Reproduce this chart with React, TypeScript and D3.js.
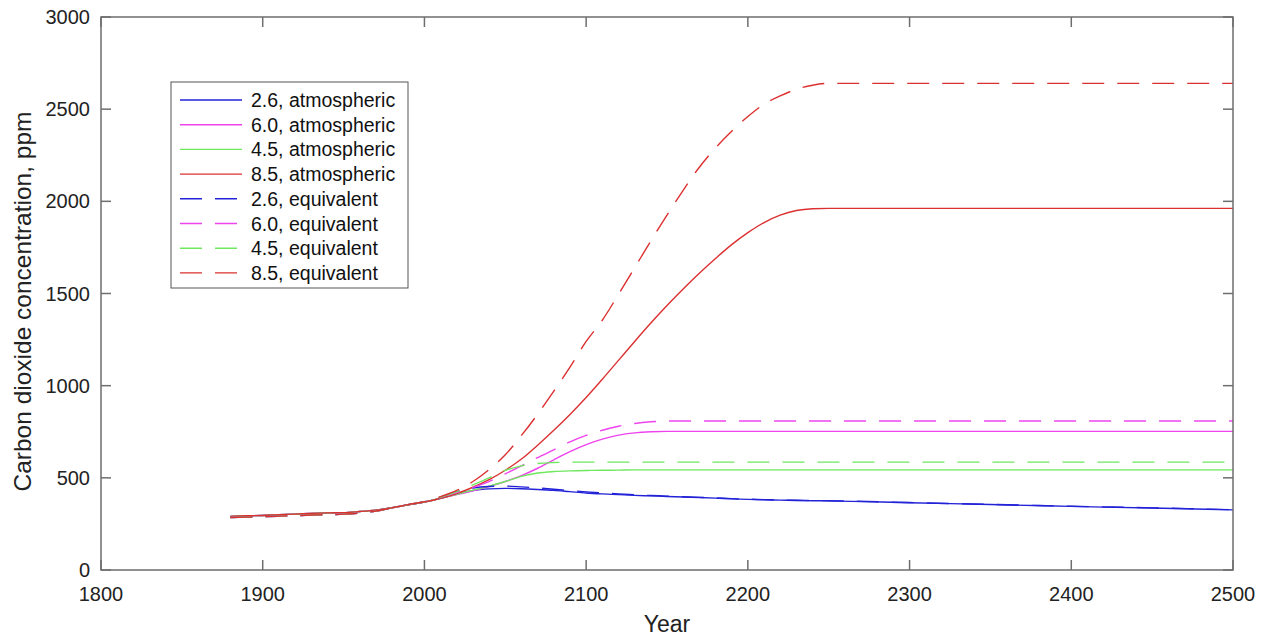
import React from "react";
import * as d3 from "d3";

// Shared historical record (1880-2000)
const histYears = [1880, 1890, 1900, 1910, 1920, 1930, 1940, 1950, 1960, 1970, 1980, 1990, 2000];
const histAtmospheric = [291, 294, 296, 300, 303, 307, 310, 311, 317, 325, 338, 354, 369];
const histEquivalent = [285, 287, 289, 292, 295, 298, 300, 303, 309, 320, 337, 355, 370];

// Scenario years (2010-2500)
const futureYears = [
  2010, 2020, 2030, 2040, 2050, 2060, 2070, 2080, 2090, 2100,
  2110, 2120, 2130, 2140, 2150, 2160, 2170, 2180, 2190, 2200,
  2210, 2220, 2230, 2240, 2250, 2300, 2350, 2400, 2450, 2500,
];

const rcp26Atm = [389, 412, 431, 440, 443, 441, 437, 432, 425, 418, 413, 409, 405, 402, 399, 396, 393, 390, 386, 383, 381, 379, 377, 376, 375, 365, 355, 345, 336, 326];
const rcp60Atm = [389, 409, 430, 453, 480, 512, 552, 598, 642, 680, 710, 732, 744, 750, 752, 752, 752, 752, 752, 752, 752, 752, 752, 752, 752, 752, 752, 752, 752, 752];
const rcp45Atm = [389, 411, 433, 455, 480, 508, 526, 534, 538, 540, 541, 542, 543, 543, 543, 543, 543, 543, 543, 543, 543, 543, 543, 543, 543, 543, 543, 543, 543, 543];
const rcp85Atm = [389, 415, 449, 490, 541, 602, 677, 758, 844, 936, 1035, 1137, 1240, 1340, 1435, 1525, 1610, 1690, 1765, 1830, 1885, 1925, 1950, 1960, 1962, 1962, 1962, 1962, 1962, 1962];

const rcp26Eq = [395, 425, 445, 453, 455, 451, 445, 438, 431, 424, 418, 413, 408, 404, 401, 397, 394, 391, 387, 384, 382, 380, 378, 377, 376, 366, 356, 346, 337, 327];
const rcp60Eq = [395, 420, 448, 480, 522, 565, 610, 652, 695, 730, 758, 780, 795, 804, 808, 808, 808, 808, 808, 808, 808, 808, 808, 808, 808, 808, 808, 808, 808, 808];
const rcp45Eq = [395, 425, 462, 500, 540, 565, 578, 583, 585, 585, 585, 585, 585, 585, 585, 585, 585, 585, 585, 585, 585, 585, 585, 585, 585, 585, 585, 585, 585, 585];
const rcp85Eq = [398, 432, 480, 545, 625, 730, 845, 970, 1100, 1240, 1355, 1495, 1640, 1785, 1925, 2060, 2185, 2290, 2380, 2460, 2527, 2572, 2608, 2630, 2640, 2640, 2640, 2640, 2640, 2640];

const seriesLabels = [
  "2.6, atmospheric", "6.0, atmospheric", "4.5, atmospheric", "8.5, atmospheric",
  "2.6, equivalent", "6.0, equivalent", "4.5, equivalent", "8.5, equivalent",
];
const seriesValues = [rcp26Atm, rcp60Atm, rcp45Atm, rcp85Atm, rcp26Eq, rcp60Eq, rcp45Eq, rcp85Eq];
const seriesColors = ["#2222d8", "#ee44ee", "#6fe860", "#dc3030", "#2222d8", "#ee44ee", "#6fe860", "#dc3030"];
const seriesDashed = [false, false, false, false, true, true, true, true];

const xTicks = [1800, 1900, 2000, 2100, 2200, 2300, 2400, 2500];
const yTicks = [0, 500, 1000, 1500, 2000, 2500, 3000];

const W = 1268;
const H = 638;
const M = { left: 101, right: 1233, top: 17, bottom: 570 };
const FONT = "'Liberation Sans', Arial, Helvetica, sans-serif";
const AXIS = "#6e6e6e";
const DASH = "22,13";

export default function App() {
  const x = d3.scaleLinear().domain([1800, 2500]).range([M.left, M.right]);
  const y = d3.scaleLinear().domain([0, 3000]).range([M.bottom, M.top]);
  const line = d3
    .line<[number, number]>()
    .x((d) => x(d[0]))
    .y((d) => y(d[1]))
    .curve(d3.curveMonotoneX);

  const series = seriesValues.map((vals, i) => {
    const hist = seriesDashed[i] ? histEquivalent : histAtmospheric;
    const pts: [number, number][] = [
      ...histYears.map((yr, j) => [yr, hist[j]] as [number, number]),
      ...futureYears.map((yr, j) => [yr, vals[j]] as [number, number]),
    ];
    return { label: seriesLabels[i], color: seriesColors[i], dashed: seriesDashed[i], d: line(pts) || "" };
  });

  const tickLen = 10;
  const legend = { x: 171, y: 82, w: 237, h: 206, row0: 100, step: 24.7 };

  return (
    <svg width={W} height={H} style={{ position: "absolute", left: 0, top: 0, background: "#fff" }}>
      <rect x={0} y={0} width={W} height={H} fill="#fff" />
      <defs>
        <clipPath id="plot-area">
          <rect x={M.left} y={M.top} width={M.right - M.left} height={M.bottom - M.top} />
        </clipPath>
      </defs>

      {/* data lines */}
      <g clipPath="url(#plot-area)" fill="none">
        {series.map((s, i) => (
          <path
            key={i}
            d={s.d}
            stroke={s.color}
            strokeWidth={1.4}
            strokeDasharray={s.dashed ? DASH : undefined}
          />
        ))}
      </g>

      {/* axes box and ticks */}
      <g stroke={AXIS} strokeWidth={1.5} fill="none">
        <rect x={M.left} y={M.top} width={M.right - M.left} height={M.bottom - M.top} />
        {xTicks.map((t) => (
          <g key={"xt" + t}>
            <line x1={x(t)} x2={x(t)} y1={M.bottom} y2={M.bottom - tickLen} />
            <line x1={x(t)} x2={x(t)} y1={M.top} y2={M.top + tickLen} />
          </g>
        ))}
        {yTicks.map((t) => (
          <g key={"yt" + t}>
            <line x1={M.left} x2={M.left + tickLen} y1={y(t)} y2={y(t)} />
            <line x1={M.right} x2={M.right - tickLen} y1={y(t)} y2={y(t)} />
          </g>
        ))}
      </g>

      {/* tick labels */}
      <g fontFamily={FONT} fill="#222">
        {xTicks.map((t) => (
          <text key={"xl" + t} x={x(t)} y={601} textAnchor="middle" fontSize={20}>
            {t}
          </text>
        ))}
        {yTicks.map((t) => (
          <text key={"yl" + t} x={90} y={y(t)} textAnchor="end" dominantBaseline="central" fontSize={20}>
            {t}
          </text>
        ))}
        <text x={(M.left + M.right) / 2} y={632} textAnchor="middle" fontSize={23}>
          Year
        </text>
        <text
          transform={`translate(31, ${(M.top + M.bottom) / 2 + 8}) rotate(-90)`}
          textAnchor="middle"
          fontSize={24.5}
        >
          Carbon dioxide concentration, ppm
        </text>
      </g>

      {/* legend */}
      <g>
        <rect x={legend.x} y={legend.y} width={legend.w} height={legend.h} fill="#fff" stroke="#555" strokeWidth={1} />
        {series.map((s, i) => {
          const cy = legend.row0 + i * legend.step;
          return (
            <g key={"lg" + i}>
              <line
                x1={180}
                x2={242}
                y1={cy}
                y2={cy}
                stroke={s.color}
                strokeWidth={1.4}
                strokeDasharray={s.dashed ? DASH : undefined}
              />
              <text x={251} y={cy} dominantBaseline="central" fontFamily={FONT} fontSize={19.5} fill="#111">
                {s.label}
              </text>
            </g>
          );
        })}
      </g>
    </svg>
  );
}
